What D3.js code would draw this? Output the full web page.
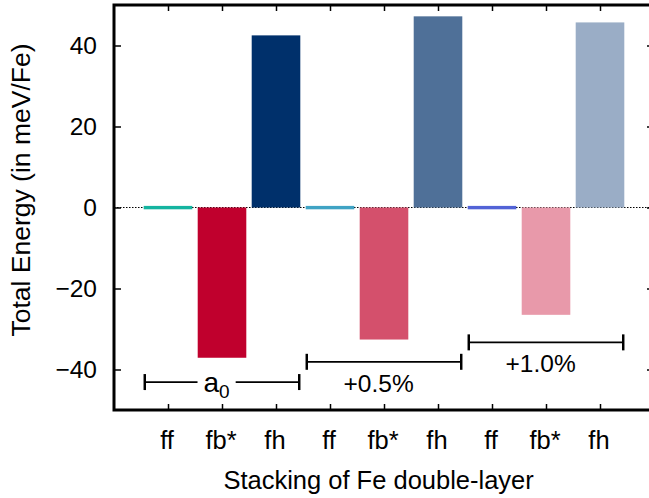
<!DOCTYPE html>
<html>
<head>
<meta charset="utf-8">
<script src="https://cdn.jsdelivr.net/npm/d3@7"></script>
<style>
  html, body { margin: 0; padding: 0; background: #fff; }
  svg { display: block; }
  text { font-family: "Liberation Sans", Arial, Helvetica, sans-serif; fill: #000; }
</style>
</head>
<body>
<script>
// Stacking configurations of the Fe double-layer, three lattice strains
const categories = ["ff", "fb*", "fh", "ff", "fb*", "fh", "ff", "fb*", "fh"];
const energies = [0, -37.1, 42.5, 0, -32.6, 47.2, 0, -26.5, 45.7];   // meV/Fe
const barColors = ["#14b4a0", "#c0002d", "#00306b",
                   "#3fa3c4", "#d4506c", "#4f7098",
                   "#5263d6", "#e899aa", "#9aadc6"];
const strainLabels = ["a", "+0.5%", "+1.0%"];
const strainSubscripts = ["0", "", ""];
const bracketLevels = [-43.1, -38.1, -33.3];  // meV/Fe
const yTicks = [-40, -20, 0, 20, 40];

const W = 649, H = 498;
const margin = { left: 114, right: -5, top: 5, bottom: 88 };

const svg = d3.select("body").append("svg")
  .attr("width", W).attr("height", H)
  .style("overflow", "hidden");

const x = d3.scaleLinear().domain([0, categories.length + 1])
  .range([margin.left, W - margin.right]);
const y = d3.scaleLinear().domain([-50, 50])
  .range([H - margin.bottom, margin.top]);

const slot = x(1) - x(0);
const barW = slot * 0.9;

// zero reference line
svg.append("line")
  .attr("x1", x(0)).attr("x2", x(categories.length + 1))
  .attr("y1", y(0)).attr("y2", y(0))
  .attr("stroke", "#000").attr("stroke-width", 1.2)
  .attr("stroke-dasharray", "1.5,1.5");

// bars; near-zero values are shown as a thin strip on the baseline
svg.append("g").selectAll("rect")
  .data(energies)
  .join("rect")
  .attr("x", (d, i) => x(i + 1) - barW / 2)
  .attr("width", barW)
  .attr("y", d => Math.abs(y(d) - y(0)) < 3 ? y(0) - 1.6 : Math.min(y(d), y(0)))
  .attr("height", d => Math.max(3.4, Math.abs(y(d) - y(0))))
  .attr("fill", (d, i) => barColors[i]);

// y axis (left, ticks inward) and mirrored right ticks
const yAxisL = d3.axisRight(y).tickValues(yTicks).tickSize(7).tickFormat("");
const gL = svg.append("g").attr("transform", `translate(${x(0)},0)`).call(yAxisL);
const yAxisR = d3.axisLeft(y).tickValues(yTicks).tickSize(7).tickFormat("");
const gR = svg.append("g").attr("transform", `translate(${x(categories.length + 1)},0)`).call(yAxisR);

// x axis ticks (bottom and top, inward)
const xt = d3.range(1, categories.length + 1);
const xAxisB = d3.axisTop(x).tickValues(xt).tickSize(6).tickFormat("");
const gB = svg.append("g").attr("transform", `translate(0,${y(-50)})`).call(xAxisB);
const xAxisT = d3.axisBottom(x).tickValues(xt).tickSize(6).tickFormat("");
const gT = svg.append("g").attr("transform", `translate(0,${y(50)})`).call(xAxisT);

[gL, gR, gB, gT].forEach(g => {
  g.select(".domain").remove();
  g.selectAll(".tick line").attr("stroke", "#000").attr("stroke-width", 1.5);
});

// frame
svg.append("rect")
  .attr("x", x(0)).attr("y", y(50))
  .attr("width", x(categories.length + 1) - x(0))
  .attr("height", y(-50) - y(50))
  .attr("fill", "none").attr("stroke", "#000").attr("stroke-width", 3);

// y tick labels
svg.append("g").selectAll("text")
  .data(yTicks)
  .join("text")
  .attr("x", 97).attr("y", d => y(d))
  .attr("dy", "0.35em")
  .attr("text-anchor", "end")
  .style("font-size", "24.5px")
  .text(d => d < 0 ? "\u2212" + Math.abs(d) : d);

// category labels
svg.append("g").selectAll("text")
  .data(categories)
  .join("text")
  .attr("x", (d, i) => x(i + 1) - 1).attr("y", 449)
  .attr("text-anchor", "middle")
  .style("font-size", "25.5px")
  .text(d => d);

// axis titles
svg.append("text")
  .attr("x", x(4.9)).attr("y", 489)
  .attr("text-anchor", "middle")
  .style("font-size", "25.5px")
  .text("Stacking of Fe double-layer");

svg.append("text")
  .attr("transform", "translate(30,190) rotate(-90)")
  .attr("text-anchor", "middle")
  .style("font-size", "26.5px")
  .text("Total Energy (in meV/Fe)");

// strain brackets
strainLabels.forEach((lab, g) => {
  const first = g * 3 + 1, last = g * 3 + 3;
  const x0 = x(first - 0.43), x1 = x(last + 0.43);
  const yl = y(bracketLevels[g]);
  const grp = svg.append("g");
  const mid = x(first + 1 - 0.1);
  const inline = strainSubscripts[g] !== "";

  const t = grp.append("text")
    .attr("text-anchor", "middle")
    .attr("x", mid);
  if (inline) {
    t.attr("y", yl + 10).style("font-size", "28px");
    t.append("tspan").text(lab);
    t.append("tspan").attr("dy", "0.3em").style("font-size", "19px").text(strainSubscripts[g]);
  } else {
    t.attr("y", yl + 30).style("font-size", "24.5px").text(lab);
  }

  if (inline) {
    const bb = t.node().getBBox();
    grp.append("line").attr("x1", x0).attr("x2", bb.x - 6).attr("y1", yl).attr("y2", yl);
    grp.append("line").attr("x1", bb.x + bb.width + 6).attr("x2", x1).attr("y1", yl).attr("y2", yl);
  } else {
    grp.append("line").attr("x1", x0).attr("x2", x1).attr("y1", yl).attr("y2", yl);
  }
  [x0, x1].forEach(xe => grp.append("line")
    .attr("x1", xe).attr("x2", xe).attr("y1", yl - 8).attr("y2", yl + 8)
    .attr("stroke-width", 2.5));
  grp.selectAll("line").attr("stroke", "#000").filter(function () {
    return !this.getAttribute("stroke-width");
  }).attr("stroke-width", 1.8);
});
</script>
</body>
</html>
